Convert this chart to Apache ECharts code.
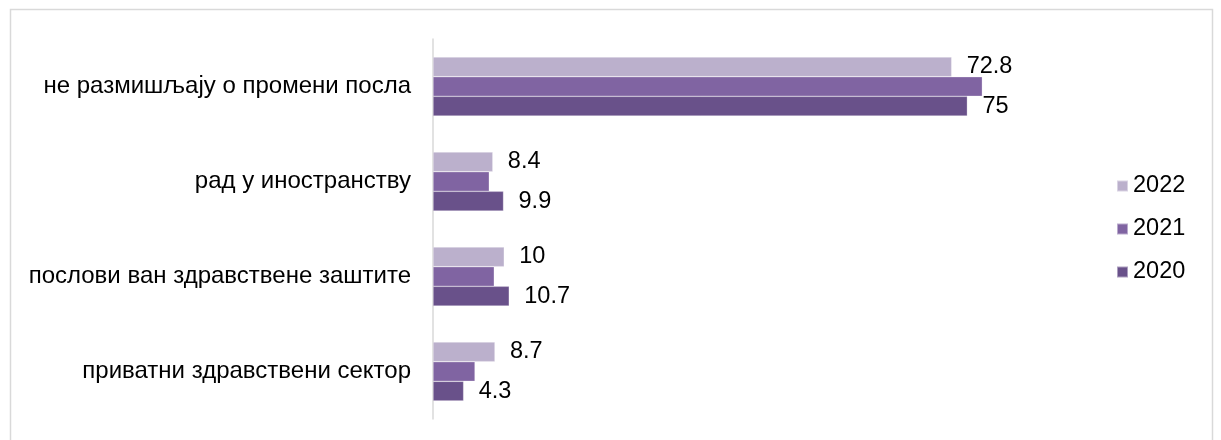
<!DOCTYPE html>
<html>
<head>
<meta charset="utf-8">
<script src="https://cdn.jsdelivr.net/npm/echarts@6/dist/echarts.min.js"></script>
<style>
html,body{margin:0;padding:0;background:#fff;}
#c{width:1221px;height:440px;}
</style>
</head>
<body>
<div id="c"></div>
<script>
const categories = ['не размишљају о промени посла', 'рад у иностранству', 'послови ван здравствене заштите', 'приватни здравствени сектор'];
const seriesNames = ['2022', '2021', '2020'];
const values2022 = [72.8, 8.4, 10, 8.7];
const values2021 = [77.1, 7.9, 8.6, 5.9];
const values2020 = [75, 9.9, 10.7, 4.3];
const showLabels = [true, false, true];
const colors = ['#bbb0cc', '#8064a2', '#69518a'];

const allValues = [values2022, values2021, values2020];
const FONT = '"Liberation Sans", Arial, sans-serif';

const chart = echarts.init(document.getElementById('c'), null, {renderer: 'canvas'});
chart.setOption({
  animation: false,
  backgroundColor: '#ffffff',
  graphic: [{
    type: 'rect',
    shape: {x: 10.5, y: 9.5, width: 1202, height: 460},
    style: {fill: 'none', stroke: '#d9d9d9', lineWidth: 1.5},
    silent: true
  }],
  legend: {
    orient: 'vertical',
    left: 1116,
    top: 174,
    padding: 0,
    itemWidth: 11,
    itemHeight: 11,
    itemGap: 19,
    icon: 'rect',
    textStyle: {fontFamily: FONT, fontSize: 23.5, color: '#000', lineHeight: 24},
    data: seriesNames
  },
  grid: {left: 433, top: 39, width: 570, height: 380, containLabel: false},
  xAxis: {
    type: 'value', min: 0, max: 80,
    show: false
  },
  yAxis: {
    type: 'category',
    inverse: true,
    data: categories,
    axisLine: {show: true, lineStyle: {color: '#d9d9d9', width: 1.5}},
    axisTick: {show: false},
    axisLabel: {fontFamily: FONT, fontSize: 24, color: '#000', margin: 22}
  },
  series: seriesNames.map((name, i) => ({
    name: name,
    type: 'bar',
    data: allValues[i],
    barGap: '0%',
    barCategoryGap: '38%',
    itemStyle: {color: colors[i], borderColor: 'rgba(255,255,255,0.45)', borderWidth: 0.6},
    label: {
      show: showLabels[i],
      position: 'right',
      distance: 15,
      fontFamily: FONT,
      fontSize: 23.5,
      color: '#000'
    }
  }))
});
</script>
</body>
</html>
